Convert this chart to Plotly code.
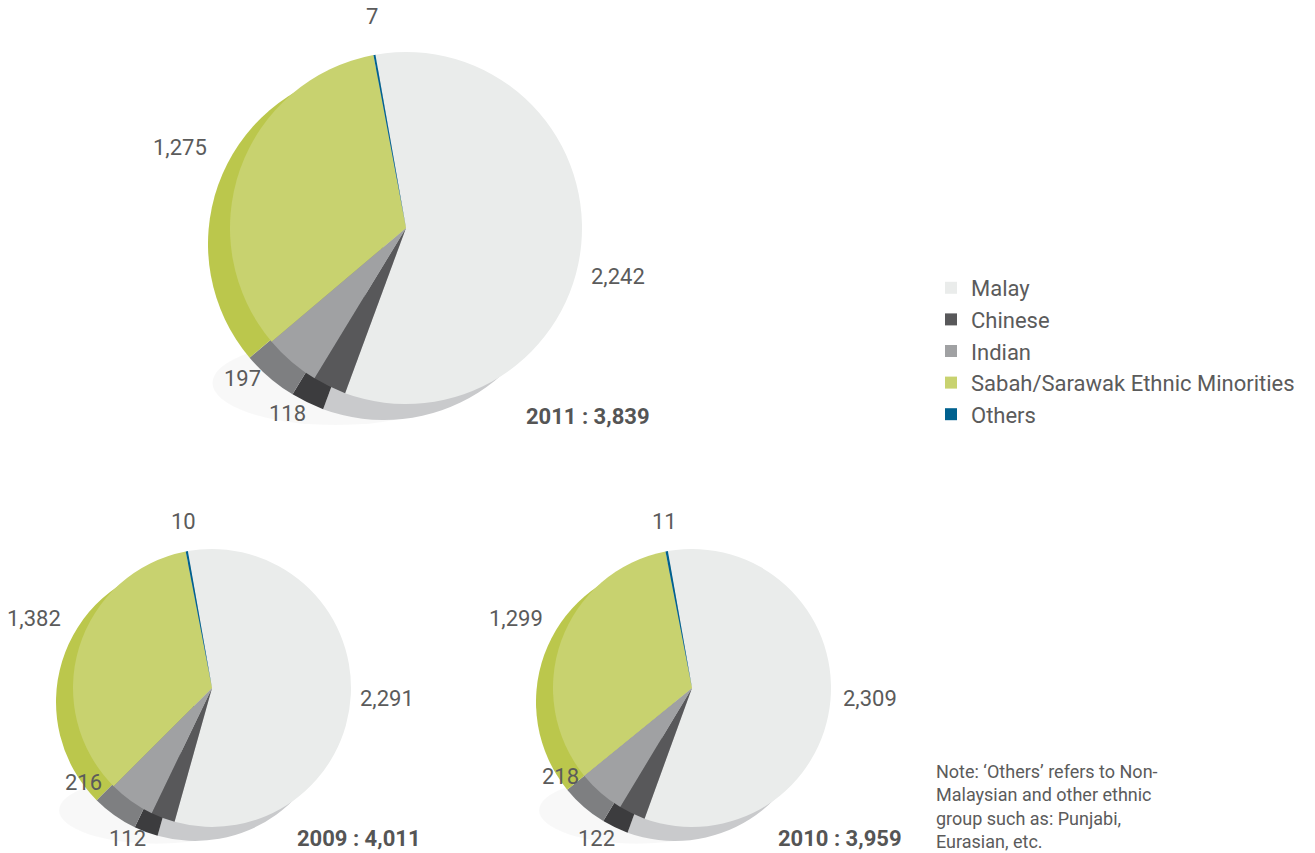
import plotly.graph_objects as go

W, H = 1315, 853

# ---- data ----
groups = ["Malay", "Chinese", "Indian", "Sabah/Sarawak Ethnic Minorities", "Others"]
years = ["2011", "2009", "2010"]
values_2011 = [2242, 118, 197, 1275, 7]
values_2009 = [2291, 112, 216, 1382, 10]
values_2010 = [2309, 122, 218, 1299, 11]
totals = {"2011": 3839, "2009": 4011, "2010": 3959}

top_colors = ["#eaeceb", "#58585a", "#a0a1a3", "#c8d26f", "#00618f"]
side_colors = ["#c9cacc", "#3c3c3e", "#7e7f81", "#bbc74c", "#004a6e"]

# layout (pixel geometry)
geom = {
    "2011": dict(cx=406, cy=228, r=176, dx=-22, dy=16),
    "2009": dict(cx=212, cy=688, r=139, dx=-17, dy=14),
    "2010": dict(cx=692, cy=688, r=139, dx=-17, dy=14),
}
vals = {"2011": values_2011, "2009": values_2009, "2010": values_2010}

# label pixel positions per year: Malay, Chinese, Indian, Sabah, Others, total
label_pos = {
    "2011": [(618, 276), (287, 413), (242, 378), (180, 148), (372, 17), (588, 416)],
    "2009": [(387, 698), (128, 838), (83, 782), (34, 618), (183, 521), (359, 838)],
    "2010": [(870, 698), (596, 838), (560, 776), (516, 618), (664, 521), (840, 838)],
}

TXT = "#5b5b5b"
FONT = "Roboto, 'Noto Sans', sans-serif"


def dom(cx, cy, r):
    return dict(x=[(cx - r) / W, (cx + r) / W], y=[1 - (cy + r) / H, 1 - (cy - r) / H])


fig = go.Figure()

# faint floor shadows
for y in years:
    g = geom[y]
    fig.add_shape(type="circle", xref="paper", yref="paper",
                  x0=(g["cx"] - g["r"] * 1.1) / W, x1=(g["cx"] + g["r"] * 0.3) / W,
                  y0=1 - (g["cy"] + g["r"] * 1.12) / H, y1=1 - (g["cy"] + g["r"] * 0.64) / H,
                  fillcolor="rgba(0,0,0,0.028)", line=dict(width=0), layer="below")

first = True
for y in years:
    g = geom[y]
    # extrusion (side)
    fig.add_trace(go.Pie(
        labels=groups, values=vals[y], sort=False, direction="clockwise", rotation=-10,
        marker=dict(colors=side_colors, line=dict(width=0)),
        domain=dom(g["cx"] + g["dx"], g["cy"] + g["dy"], g["r"]),
        textinfo="none", hoverinfo="skip", showlegend=False,
    ))
    # top face
    fig.add_trace(go.Pie(
        labels=groups, values=vals[y], sort=False, direction="clockwise", rotation=-10,
        marker=dict(colors=top_colors, line=dict(width=0)),
        domain=dom(g["cx"], g["cy"], g["r"]),
        textinfo="none", showlegend=first, name=y,
    ))
    first = False

annotations = []
for y in years:
    pos = label_pos[y]
    for i, v in enumerate(vals[y]):
        px, py = pos[i]
        annotations.append(dict(x=px / W, y=1 - py / H, xref="paper", yref="paper",
                                text=f"{v:,}", showarrow=False, xanchor="center", yanchor="middle",
                                font=dict(family=FONT, size=22, color=TXT)))
    px, py = pos[5]
    annotations.append(dict(x=px / W, y=1 - py / H, xref="paper", yref="paper",
                            text=f"<b>{y} : {totals[y]:,}</b>", showarrow=False,
                            xanchor="center", yanchor="middle",
                            font=dict(family=FONT, size=22, color="#555555")))

note_lines = ["Note: ‘Others’ refers to Non-", "Malaysian and other ethnic",
              "group such as: Punjabi,", "Eurasian, etc."]
for k, line in enumerate(note_lines):
    annotations.append(dict(x=934 / W, y=1 - (771 + 23.5 * k) / H, xref="paper", yref="paper",
                            text=line, showarrow=False, xanchor="left", yanchor="middle",
                            font=dict(family=FONT, size=18, color=TXT)))

fig.update_layout(
    width=W, height=H,
    margin=dict(l=0, r=0, t=0, b=0),
    paper_bgcolor="white", plot_bgcolor="white",
    annotations=annotations,
    legend=dict(x=931 / W, y=1 - 267 / H, xanchor="left", yanchor="top",
                font=dict(family=FONT, size=22, color=TXT), bgcolor="rgba(0,0,0,0)",
                itemclick=False, itemdoubleclick=False),
)

fig.write_html("out.html")
